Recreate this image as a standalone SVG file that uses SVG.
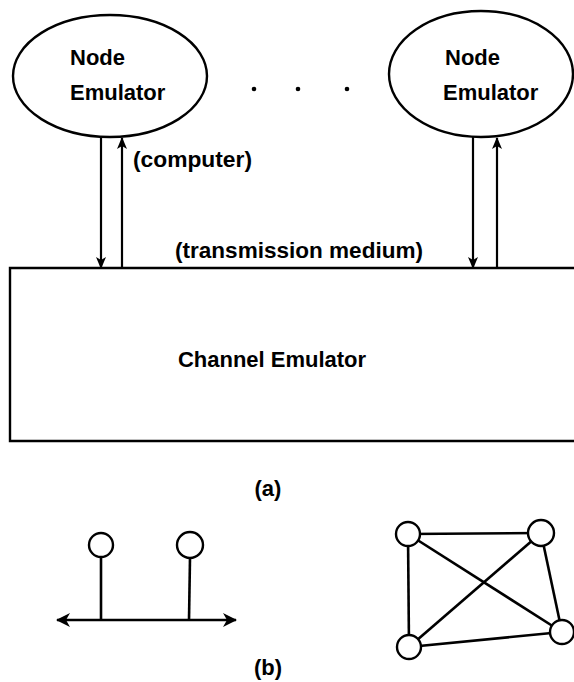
<svg xmlns="http://www.w3.org/2000/svg" width="574" height="682" viewBox="0 0 574 682">
  <style>
    .outline { fill: none; stroke: #000; stroke-width: 2.4; }
    .wire { fill: none; stroke: #000; stroke-width: 2.2; }
    .edge { fill: none; stroke: #000; stroke-width: 2.6; }
    .vertex { fill: #fff; stroke: #000; stroke-width: 2.4; }
    .label { font-family: "Liberation Sans", Arial, sans-serif; font-weight: bold; font-size: 22px; fill: #000; }
    .mid { text-anchor: middle; }
  </style>
  <defs>
    <marker id="head" viewBox="0 0 12 10" refX="11" refY="5" markerWidth="12" markerHeight="10" markerUnits="userSpaceOnUse" orient="auto-start-reverse">
      <path d="M0,0 L12,5 L0,10 L3,5 Z" fill="#000"/>
    </marker>
    <marker id="bus-head" viewBox="0 0 14 14" refX="13" refY="7" markerWidth="14" markerHeight="14" markerUnits="userSpaceOnUse" orient="auto-start-reverse">
      <path d="M0,0 L14,7 L0,14 L4,7 Z" fill="#000"/>
    </marker>
  </defs>
  <rect width="574" height="682" fill="#fff"/>

  <!-- (a) node emulators and channel emulator -->
  <g id="node-left">
    <ellipse class="outline" cx="110" cy="76" rx="97" ry="61"/>
    <text class="label" x="70" y="65">Node</text>
    <text class="label" x="70" y="100">Emulator</text>
  </g>
  <g id="node-right">
    <ellipse class="outline" cx="481" cy="74" rx="92" ry="63"/>
    <text class="label" x="445" y="65">Node</text>
    <text class="label" x="443" y="100">Emulator</text>
  </g>
  <g id="ellipsis">
    <circle cx="254" cy="89" r="2.3" fill="#000"/>
    <circle cx="298" cy="89" r="2.3" fill="#000"/>
    <circle cx="347" cy="89" r="2.3" fill="#000"/>
  </g>
  <g id="channel-emulator">
    <path class="outline" d="M580,268 H10 V441 H580"/>
    <text class="label mid" x="272" y="367">Channel Emulator</text>
  </g>

  <g id="connectors">
    <line class="wire" x1="101" y1="137" x2="101" y2="268" marker-end="url(#head)"/>
    <line class="wire" x1="122" y1="268" x2="122" y2="138" marker-end="url(#head)"/>
    <line class="wire" x1="473" y1="137" x2="473" y2="268" marker-end="url(#head)"/>
    <line class="wire" x1="497" y1="268" x2="497" y2="138" marker-end="url(#head)"/>
  </g>

  <text class="label" x="133" y="167" textLength="119" lengthAdjust="spacingAndGlyphs">(computer)</text>
  <text class="label" x="175" y="258" textLength="248" lengthAdjust="spacingAndGlyphs">(transmission medium)</text>
  <text class="label mid" x="268" y="496">(a)</text>

  <!-- (b) bus topology -->
  <g id="bus">
    <line class="edge" x1="101" y1="557" x2="101" y2="620"/>
    <line class="edge" x1="190" y1="558" x2="189" y2="620"/>
    <line class="edge" x1="57" y1="620" x2="236" y2="620" marker-start="url(#bus-head)" marker-end="url(#bus-head)"/>
    <circle class="vertex" cx="101" cy="545" r="12"/>
    <circle class="vertex" cx="190" cy="545" r="13"/>
  </g>

  <!-- (b) fully connected mesh -->
  <g id="mesh">
    <line class="edge" x1="408" y1="534" x2="541" y2="533"/>
    <line class="edge" x1="408" y1="534" x2="409" y2="647"/>
    <line class="edge" x1="408" y1="534" x2="562" y2="632"/>
    <line class="edge" x1="541" y1="533" x2="409" y2="647"/>
    <line class="edge" x1="541" y1="533" x2="562" y2="632"/>
    <line class="edge" x1="409" y1="647" x2="562" y2="632"/>
    <circle class="vertex" cx="408" cy="534" r="12"/>
    <circle class="vertex" cx="541" cy="533" r="13"/>
    <circle class="vertex" cx="409" cy="647" r="12"/>
    <circle class="vertex" cx="562" cy="632" r="12"/>
  </g>

  <text class="label mid" x="268" y="675">(b)</text>
</svg>
